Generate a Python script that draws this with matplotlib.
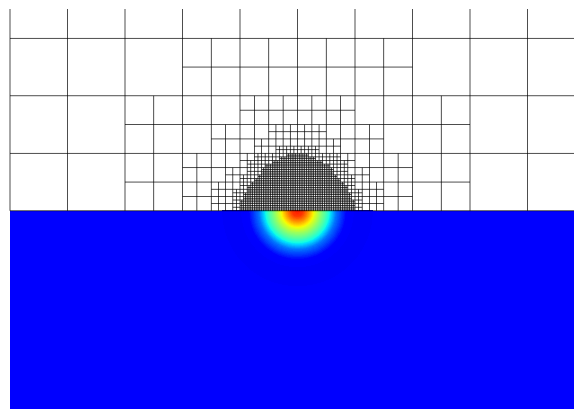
import numpy as np
import matplotlib
matplotlib.use("Agg")
import matplotlib.pyplot as plt
from matplotlib.collections import LineCollection
from matplotlib.patches import Rectangle

# mesh: how many cells, counted from the centre line, get split in each row
# (row 0 sits on the interface), one list per refinement level. mirrored left/right
refine_l0 = [3, 3, 2]
refine_l1 = [4, 4, 3, 2]
refine_l2 = [6, 6, 5, 4, 3, 2]
refine_l3 = [9, 9, 9, 8, 8, 7, 7, 6, 3]
refine_l4 = [16, 16, 16, 15, 15, 14, 14, 13, 12, 11, 10, 10, 9, 7, 5, 3]
refine_levels = [refine_l0, refine_l1, refine_l2, refine_l3, refine_l4]

# field below the interface, read along a radius from the hot spot
field_radius = [0, 0.087, 0.174, 0.243, 0.296, 0.383, 0.47, 0.557, 0.661, 0.835, 0.97, 1.3]
field_value = [0.88, 0.85, 0.76, 0.68, 0.62, 0.53, 0.45, 0.36, 0.24, 0.13, 0.11, 0.11]

cell_px = 57.5
centre_x = 297.5
interface_y = 210.8
fig_w, fig_h = 574, 409

fig = plt.figure(figsize=(fig_w / 100, fig_h / 100), dpi=100)
ax = fig.add_axes([0, 0, 1, 1])
ax.set_xlim(-centre_x / cell_px, (fig_w - centre_x) / cell_px)
ax.set_ylim((interface_y - fig_h) / cell_px, interface_y / cell_px)
ax.axis("off")

left, right = -5, 5
top = (interface_y - 9) / cell_px
bottom = (interface_y - fig_h) / cell_px

# blue background + radial hot spot
ax.add_patch(Rectangle((left, bottom), right - left, -bottom, color="#0000ff", lw=0, zorder=1))
theta = np.linspace(np.pi, 2 * np.pi, 91)
r = np.array(field_radius)
X = np.outer(r, np.cos(theta))
Y = np.outer(r, np.sin(theta))
C = np.repeat(np.array(field_value)[:, None], len(theta), axis=1)
ax.contourf(X, Y, C, levels=np.linspace(0.1, 0.9, 161), cmap="jet", vmin=0, vmax=1,
            antialiased=False, zorder=2)

# mesh lines
segs = []
for x in range(left, right + 1):
    segs.append([(x, 0), (x, top)])
for y in range(0, 4):
    segs.append([(left, y), (right, y)])
for level, counts in enumerate(refine_levels):
    size = 1 / 2 ** level
    for j, n in enumerate(counts):
        ym = (j + 0.5) * size
        for i in range(n):
            for sign in (1, -1):
                x0 = sign * i * size
                x1 = sign * (i + 1) * size
                xm = (x0 + x1) / 2
                segs.append([(x0, ym), (x1, ym)])
                segs.append([(xm, j * size), (xm, (j + 1) * size)])

lines = LineCollection(segs, colors="#000000", linewidths=0.5, capstyle="butt", zorder=3)
lines.set_snap(False)
ax.add_collection(lines)

fig.savefig("out.png", dpi=100, facecolor="white")
